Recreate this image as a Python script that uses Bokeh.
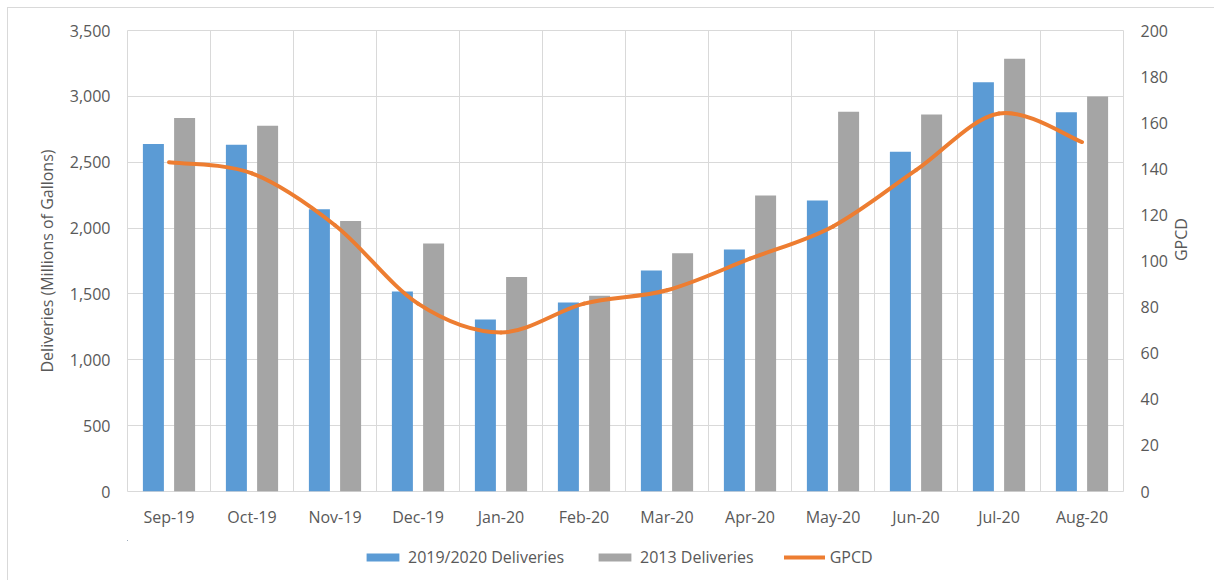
import math
from bokeh.plotting import figure
from bokeh.layouts import column
from bokeh.models import (Range1d, LinearAxis, FixedTicker,
                          NumeralTickFormatter, Legend, LegendItem, ColumnDataSource)
from bokeh.transform import dodge
from bokeh.embed import file_html
from bokeh.resources import INLINE

months = ["Sep-19", "Oct-19", "Nov-19", "Dec-19", "Jan-20", "Feb-20",
          "Mar-20", "Apr-20", "May-20", "Jun-20", "Jul-20", "Aug-20"]
deliveries_2019_2020 = [2639, 2632, 2143, 1518, 1305, 1434, 1677, 1837, 2209, 2579, 3108, 2880]
deliveries_2013 = [2835, 2776, 2054, 1882, 1629, 1487, 1809, 2247, 2883, 2863, 3286, 2999]
gpcd = [142.8, 138.0, 115.5, 81.5, 69.0, 81.5, 87.3, 101.0, 115.0, 139.4, 164.0, 151.6]
left_ticks = [0, 500, 1000, 1500, 2000, 2500, 3000, 3500]
right_ticks = [0, 20, 40, 60, 80, 100, 120, 140, 160, 180, 200]
series_names = ["2019/2020 Deliveries", "2013 Deliveries", "GPCD"]

FONT = "Open Sans"
TXT = "#595959"
GRID = "#d9d9d9"
BLUE = "#5b9bd5"
GRAY = "#a5a5a5"
ORANGE = "#ed7d31"

idx = list(range(len(months)))
src = ColumnDataSource(dict(x=idx, a=deliveries_2019_2020, b=deliveries_2013, g=gpcd))

p = figure(frame_width=996, frame_height=461, output_backend="svg", toolbar_location=None,
           x_range=Range1d(-0.5, len(months) - 0.5), y_range=Range1d(0, 3500),
           min_border_left=119, min_border_right=91, min_border_top=22, min_border_bottom=49)
p.extra_y_ranges = {"gpcd": Range1d(0, 200)}
p.outline_line_color = GRID
p.background_fill_color = "white"
p.border_fill_color = "white"

p.vbar(x=dodge("x", -0.188, range=p.x_range), top="a", width=0.253, source=src,
       fill_color=BLUE, line_color=None)
p.vbar(x=dodge("x", 0.188, range=p.x_range), top="b", width=0.253, source=src,
       fill_color=GRAY, line_color=None)

# Smoothed line (Excel-style cubic Bezier through the data points)
n = len(gpcd)
x0, y0, x1, y1, cx0, cy0, cx1, cy1 = [], [], [], [], [], [], [], []
for i in range(n - 1):
    pa = i - 1 if i > 0 else i
    pd = i + 2 if i + 2 < n else i + 1
    x0.append(idx[i]); y0.append(gpcd[i])
    x1.append(idx[i + 1]); y1.append(gpcd[i + 1])
    cx0.append(idx[i] + (idx[i + 1] - idx[pa]) / 6.0)
    cy0.append(gpcd[i] + (gpcd[i + 1] - gpcd[pa]) / 6.0)
    cx1.append(idx[i + 1] - (idx[pd] - idx[i]) / 6.0)
    cy1.append(gpcd[i + 1] - (gpcd[pd] - gpcd[i]) / 6.0)
bsrc = ColumnDataSource(dict(x0=x0, y0=y0, x1=x1, y1=y1, cx0=cx0, cy0=cy0, cx1=cx1, cy1=cy1))
p.bezier(x0="x0", y0="y0", x1="x1", y1="y1", cx0="cx0", cy0="cy0", cx1="cx1", cy1="cy1",
         source=bsrc, line_color=ORANGE, line_width=4, line_cap="round", y_range_name="gpcd")

# Axes
xa = p.xaxis[0]
xa.ticker = FixedTicker(ticks=idx)
xa.major_label_overrides = {i: m for i, m in zip(idx, months)}
ya = p.yaxis[0]
ya.ticker = FixedTicker(ticks=left_ticks)
ya.formatter = NumeralTickFormatter(format="0,0")
ya.axis_label = "Deliveries (Millions of Gallons)"

ra = LinearAxis(y_range_name="gpcd", ticker=FixedTicker(ticks=right_ticks), axis_label="GPCD")
if "axis_label_orientation" in LinearAxis.properties():
    ra.axis_label_orientation = math.pi / 2
p.add_layout(ra, "right")

for ax in (xa, ya, ra):
    ax.axis_line_color = None
    ax.major_tick_line_color = None
    ax.minor_tick_line_color = None
    ax.major_tick_out = 0
    ax.major_tick_in = 0
    ax.major_label_text_font = FONT
    ax.major_label_text_font_size = "16px"
    ax.major_label_text_color = TXT
    ax.axis_label_text_font = FONT
    ax.axis_label_text_font_size = "16px"
    ax.axis_label_text_color = TXT
    ax.axis_label_text_font_style = "normal"
ya.major_label_standoff = 17
ya.axis_label_standoff = 9
ra.major_label_standoff = 17
ra.axis_label_standoff = 10
xa.major_label_standoff = 14

p.xgrid.ticker = FixedTicker(ticks=[i - 0.5 for i in range(n + 1)])
p.xgrid.grid_line_color = GRID
p.ygrid.grid_line_color = GRID

# Legend strip: a small figure under the chart whose view lies away from the
# data, so its renderers (same data and styles) only show as legend swatches.
lg = figure(width=1206, height=40, output_backend="svg", toolbar_location=None,
            x_range=Range1d(1000, 1001), y_range=Range1d(-2, -1), min_border=0)
lg.axis.visible = False
lg.grid.visible = False
lg.outline_line_color = None
lg.background_fill_color = "white"
lg.border_fill_color = "white"
k1 = lg.vbar(x="x", top="a", width=0.253, source=src, fill_color=BLUE, line_color=None)
k2 = lg.vbar(x="x", top="b", width=0.253, source=src, fill_color=GRAY, line_color=None)
k3 = lg.line(x="x", y="g", source=src, line_color=ORANGE, line_width=4, line_cap="round")
legend = Legend(items=[LegendItem(label=series_names[0], renderers=[k1]),
                       LegendItem(label=series_names[1], renderers=[k2]),
                       LegendItem(label=series_names[2], renderers=[k3])],
                location=(235, 12), orientation="horizontal",
                glyph_width=41, glyph_height=10, label_standoff=5, spacing=30,
                padding=0, margin=0, border_line_color=None, background_fill_alpha=0,
                label_text_font=FONT, label_text_font_size="16px", label_text_color=TXT)
lg.add_layout(legend)

page = column(p, lg, spacing=0)
page.styles = {"margin-left": "7px", "margin-top": "7px",
               "border-left": "1px solid #d9d9d9", "border-top": "1px solid #d9d9d9"}

open("out.html", "w").write(file_html(page, INLINE))
